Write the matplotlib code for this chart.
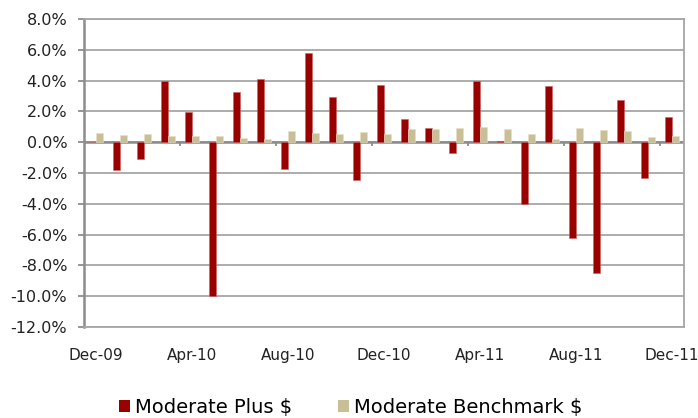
import numpy as np
import matplotlib
matplotlib.use("Agg")
import matplotlib.pyplot as plt
from matplotlib.patches import Patch
from matplotlib.ticker import FuncFormatter

# Monthly returns (%), Dec-09 .. Dec-11
months = ["Dec-09", "Jan-10", "Feb-10", "Mar-10", "Apr-10", "May-10", "Jun-10",
          "Jul-10", "Aug-10", "Sep-10", "Oct-10", "Nov-10", "Dec-10", "Jan-11",
          "Feb-11", "Mar-11", "Apr-11", "May-11", "Jun-11", "Jul-11", "Aug-11",
          "Sep-11", "Oct-11", "Nov-11", "Dec-11"]
moderate_plus = [0.0, -1.8, -1.1, 4.0, 1.95, -10.0, 3.25, 4.1, -1.75, 5.8, 2.95,
                 -2.45, 3.7, 1.5, 0.92, -0.68, 4.0, 0.1, -4.0, 3.65, -6.25, -8.5,
                 2.72, -2.35, 1.63]
moderate_bench = [0.62, 0.5, 0.53, 0.42, 0.4, 0.4, 0.25, 0.2, 0.75, 0.6, 0.56,
                  0.63, 0.53, 0.85, 0.83, 0.94, 0.96, 0.83, 0.55, 0.18, 0.92, 0.8,
                  0.72, 0.33, 0.4]
label_every = 4

RED = "#990000"
TAN = "#C9BF97"
GRID = "#a6a6a6"
AXIS = "#8c8c8c"

fig = plt.figure(figsize=(6.98, 4.18), dpi=100)
ax = fig.add_axes([84 / 698, 1 - 327 / 418, 600 / 698, 308 / 418])

x = np.arange(len(months))
w = 0.31
ax.bar(x - w / 2, moderate_plus, w, color=RED, edgecolor="#c86060", linewidth=0.4, zorder=3)
ax.bar(x + w / 2, moderate_bench, w, color=TAN, edgecolor="#e6dfc4", linewidth=0.4, zorder=3)

ax.set_xlim(-0.5, len(months) - 0.5)
ax.set_ylim(-12, 8)
ax.set_yticks(np.arange(-12, 8.1, 2))
ax.yaxis.set_major_formatter(FuncFormatter(lambda v, p: f"{v:.1f}%"))
ax.yaxis.grid(True, color=GRID, linewidth=1.3, zorder=0)
ax.set_axisbelow(True)

for s in ["top", "right", "bottom"]:
    ax.spines[s].set_color(GRID)
    ax.spines[s].set_linewidth(1.3)
ax.spines["left"].set_color(AXIS)
ax.spines["left"].set_linewidth(1.8)

ax.tick_params(axis="y", length=4, width=1.3, color=AXIS, pad=8,
               labelsize=11.5, labelcolor="#222222")
ax.set_xticks(x[::label_every])
ax.set_xticklabels(months[::label_every])
ax.tick_params(axis="x", length=0, pad=15, labelsize=11, labelcolor="#222222")

# zero line, with small tick marks at every 4th category boundary
ax.axhline(0, color=AXIS, linewidth=1.8, zorder=2)
bounds = np.arange(label_every, len(months), label_every) - 0.5
ax.vlines(bounds, -0.27, 0, color=AXIS, linewidth=1.3, zorder=2)

handles = [Patch(facecolor=RED, label="Moderate Plus $"),
           Patch(facecolor=TAN, label="Moderate Benchmark $")]
fig.legend(handles=handles, loc="lower center", bbox_to_anchor=(0.503, 0.002),
           ncol=2, frameon=False, handlelength=0.57, handleheight=0.57,
           handletextpad=0.26, columnspacing=2.35, borderpad=0, borderaxespad=0,
           prop={"family": "DejaVu Sans", "size": 14})

fig.savefig("out.png", dpi=100)
